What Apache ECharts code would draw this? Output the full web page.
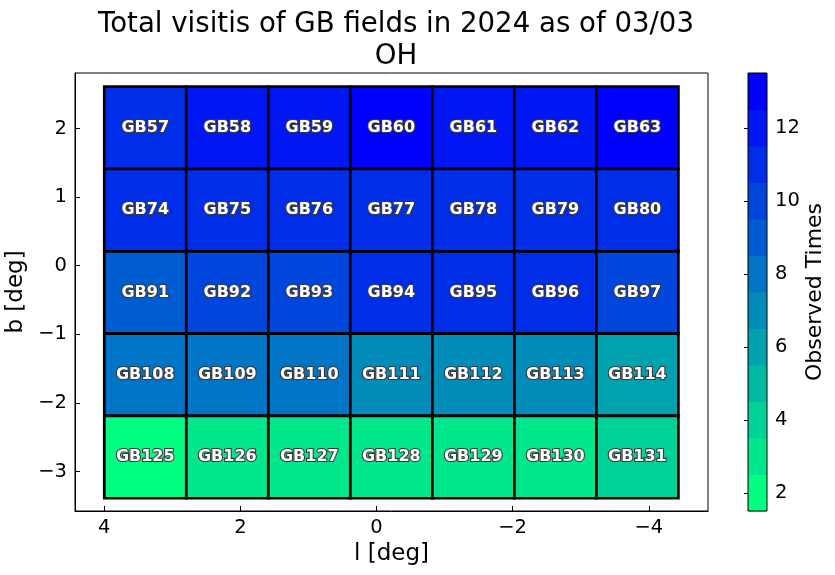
<!DOCTYPE html>
<html><head><meta charset="utf-8">
<script src="https://cdn.jsdelivr.net/npm/echarts@6/dist/echarts.min.js"></script>
<style>html,body{margin:0;padding:0;background:#fff}#c{width:835px;height:575px}</style>
</head><body><div id="c"></div>
<script>
// ---- data ----
const lEdges = [4.0, 2.795, 1.59, 0.385, -0.82, -2.025, -3.23, -4.435];
const bEdges = [2.61, 1.41, 0.21, -0.99, -2.19, -3.39];
const fieldRows = [
  ['GB57','GB58','GB59','GB60','GB61','GB62','GB63'],
  ['GB74','GB75','GB76','GB77','GB78','GB79','GB80'],
  ['GB91','GB92','GB93','GB94','GB95','GB96','GB97'],
  ['GB108','GB109','GB110','GB111','GB112','GB113','GB114'],
  ['GB125','GB126','GB127','GB128','GB129','GB130','GB131']
];
const visitRows = [
  [11,12,12,13,12,12,13],
  [11,11,11,11,11,11,11],
  [9,10,10,11,11,11,10],
  [8,8,8,7,7,7,6],
  [2,3,3,3,3,3,4]
];
const lTicks = [4, 2, 0, -2, -4];
const bTicks = [2, 1, 0, -1, -2, -3];
const cbarLevels = [2,3,4,5,6,7,8,9,10,11,12,13];
const cbarTicks = [2,4,6,8,10,12];
const lRange = [-4.87, 4.43];
const bRange = [-3.576, 2.81];
const vRange = [1.5, 13.5];

// winter_r, 12 discrete levels
function colorOf(v){
  let k = Math.round(v) - cbarLevels[0];
  k = Math.max(0, Math.min(cbarLevels.length - 1, k));
  const t = k / (cbarLevels.length - 1);
  const g = Math.round(255 * (1 - t));
  const b = Math.round(255 * (0.5 + 0.5 * t));
  return 'rgb(0,' + g + ',' + b + ')';
}
const cells = [];
const names = [];
fieldRows.forEach((row, r) => row.forEach((nm, c) => {
  cells.push([lEdges[c], lEdges[c+1], bEdges[r+1], bEdges[r], visitRows[r][c]]);
  names.push(nm);
}));
const fmt = v => String(v).replace('-', '\u2212');
const FONT = 'DejaVu Sans';

const chart = echarts.init(document.getElementById('c'), null, {renderer:'canvas'});
chart.setOption({
  animation:false,
  backgroundColor:'#fff',
  title:{
    text:'Total visitis of GB fields in 2024 as of 03/03\nOH',
    left:391, top:4, textAlign:'center',
    textStyle:{fontFamily:FONT, fontSize:27.6, fontWeight:'normal', color:'#000', lineHeight:32}
  },
  grid:[
    {left:75, right:127, top:73, bottom:64, show:true, borderColor:'#000', borderWidth:1, z:10,
     backgroundColor:'transparent', containLabel:false, outerBoundsMode:'none'},
    {left:748, width:19, top:73, bottom:64, show:true, borderColor:'#000', borderWidth:1, z:10,
     backgroundColor:'transparent', containLabel:false, outerBoundsMode:'none'}
  ],
  xAxis:[
    {gridIndex:0, type:'value', inverse:true, min:lRange[0], max:lRange[1],
     name:'l [deg]', nameLocation:'middle', nameGap:27,
     nameTextStyle:{fontFamily:FONT, fontSize:23, color:'#000'},
     axisLine:{show:true, onZero:false, lineStyle:{color:'#000', width:1}},
     axisTick:{show:true, inside:true, length:5, customValues:lTicks, lineStyle:{color:'#000'}},
     axisLabel:{customValues:lTicks, formatter:fmt, margin:7, fontFamily:FONT, fontSize:19.5, color:'#000'},
     splitLine:{show:false}},
    {gridIndex:1, type:'value', min:0, max:1, show:false}
  ],
  yAxis:[
    {gridIndex:0, type:'value', min:bRange[0], max:bRange[1],
     name:'b [deg]', nameLocation:'middle', nameGap:33,
     nameTextStyle:{fontFamily:FONT, fontSize:23, color:'#000'},
     axisLine:{show:true, onZero:false, lineStyle:{color:'#000', width:1}},
     axisTick:{show:true, inside:true, length:5, customValues:bTicks, lineStyle:{color:'#000'}},
     axisLabel:{customValues:bTicks, formatter:fmt, margin:8, fontFamily:FONT, fontSize:19.5, color:'#000'},
     splitLine:{show:false}},
    {gridIndex:1, type:'value', min:vRange[0], max:vRange[1], position:'right',
     name:'Observed Times', nameLocation:'middle', nameGap:37, nameRotate:90,
     nameTextStyle:{fontFamily:FONT, fontSize:22, color:'#000'},
     axisLine:{show:false},
     axisTick:{show:true, inside:true, length:4, customValues:cbarTicks, lineStyle:{color:'#000'}},
     axisLabel:{customValues:cbarTicks, margin:8, fontFamily:FONT, fontSize:19.5, color:'#000'},
     splitLine:{show:false}}
  ],
  series:[
    {type:'custom', xAxisIndex:0, yAxisIndex:0, data:cells, z:5,
     renderItem:function(params, api){
       const p0 = api.coord([api.value(0), api.value(2)]);
       const p1 = api.coord([api.value(1), api.value(3)]);
       const x = Math.min(p0[0], p1[0]), y = Math.min(p0[1], p1[1]);
       const w = Math.abs(p1[0]-p0[0]), h = Math.abs(p1[1]-p0[1]);
       return {type:'group', children:[
         {type:'rect', shape:{x:x, y:y, width:w, height:h},
          style:{fill:colorOf(api.value(4)), stroke:'#000', lineWidth:2.7}},
         {type:'text', z2:10, style:{text:names[params.dataIndex], x:x+w/2, y:y+h/2,
          align:'center', verticalAlign:'middle', fill:'#fff', stroke:'#3a3a3a', lineWidth:2.2,
          strokeFirst:true, font:'bold 16px "DejaVu Sans"'}}
       ]};
     }},
    {type:'custom', xAxisIndex:1, yAxisIndex:1, data:cbarLevels.map(v => [v]), z:2,
     renderItem:function(params, api){
       const v = api.value(0);
       const p0 = api.coord([0, v - 0.5]);
       const p1 = api.coord([1, v + 0.5]);
       return {type:'rect', shape:{x:p0[0], y:p1[1], width:p1[0]-p0[0], height:p0[1]-p1[1]+0.5},
         style:{fill:colorOf(v)}};
     }}
  ]
});
</script>
</body></html>
